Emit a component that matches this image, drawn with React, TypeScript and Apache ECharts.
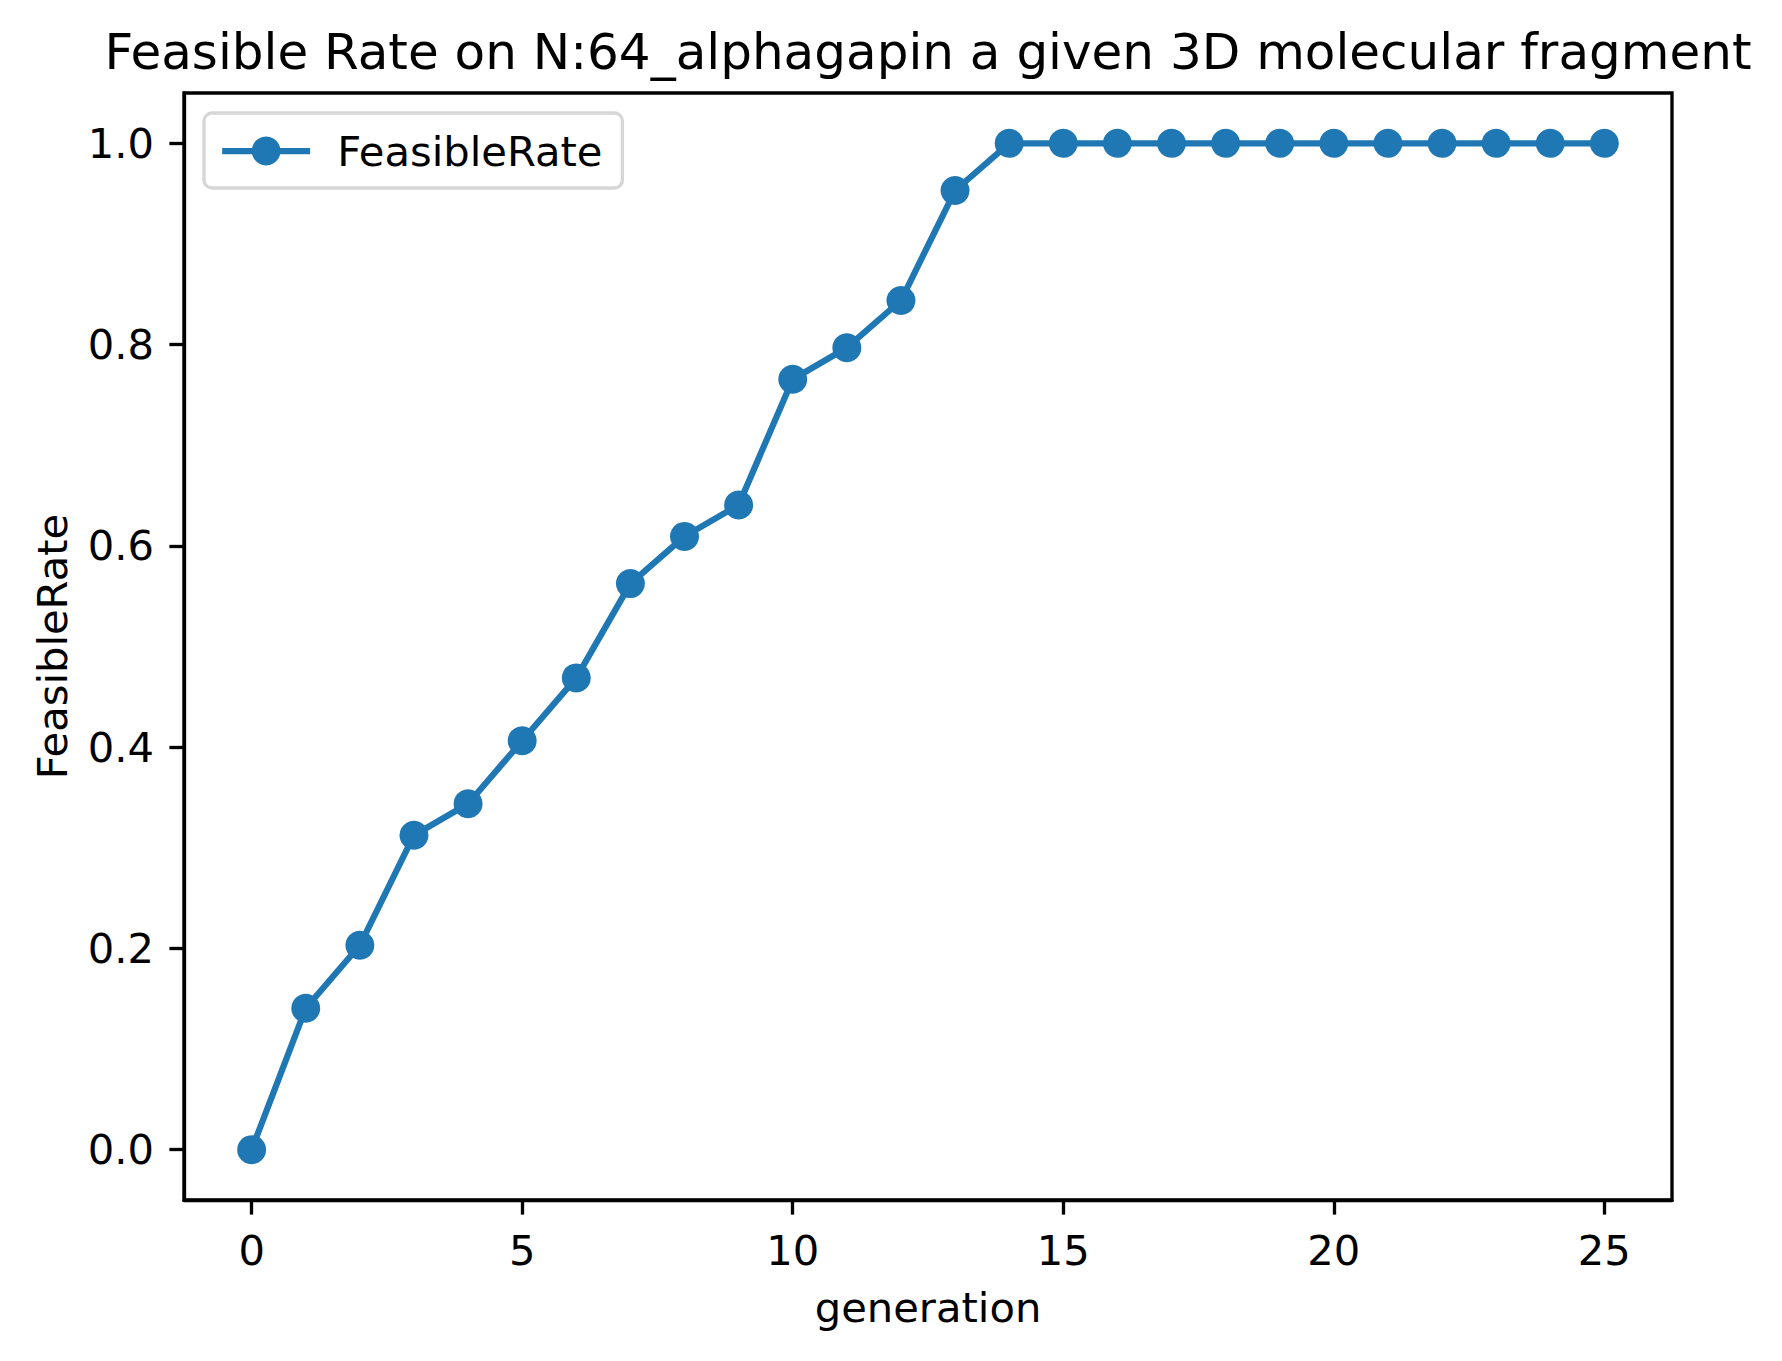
import React, { useEffect, useRef } from "react";
import * as echarts from "echarts";

const generations = [0, 1, 2, 3, 4, 5, 6, 7, 8, 9, 10, 11, 12, 13, 14, 15, 16, 17, 18, 19, 20, 21, 22, 23, 24, 25];
const feasibleRate = [
  0.0, 0.1406, 0.2031, 0.3125, 0.3438, 0.4063, 0.4688, 0.5625, 0.6094, 0.6406,
  0.7656, 0.7969, 0.8438, 0.9531, 1.0, 1.0, 1.0, 1.0, 1.0, 1.0, 1.0, 1.0, 1.0, 1.0, 1.0, 1.0,
];
const xTicks = [0, 5, 10, 15, 20, 25];
const yTicks = [0, 0.2, 0.4, 0.6, 0.8, 1.0];

const TITLE = "Feasible Rate on N:64_alphagapin a given 3D molecular fragment";
const FONT = "DejaVu Sans";
const BLUE = "#1f77b4";
const FS = 41.67;

export default function App() {
  const ref = useRef<HTMLDivElement>(null);
  useEffect(() => {
    if (!ref.current) return;
    const chart = echarts.init(ref.current, null, { renderer: "svg" });
    const data = generations.map((g, i) => [g, feasibleRate[i]]);
    chart.setOption({
      animation: false,
      backgroundColor: "#ffffff",
      textStyle: { fontFamily: FONT },
      grid: {
        left: 184,
        right: 110,
        top: 93,
        bottom: 161,
        show: true,
        borderColor: "#000",
        borderWidth: 3.33,
        backgroundColor: "transparent",
      },
      graphic: [
        {
          type: "text",
          x: 928,
          y: 52,
          style: {
            text: TITLE,
            font: `50px "${FONT}"`,
            fill: "#000",
            textAlign: "center",
            textVerticalAlign: "middle",
          },
        },
      ],
      legend: {
        show: true,
        left: 204,
        top: 113,
        orient: "vertical",
        padding: [16, 20, 15, 15],
        itemWidth: 88,
        itemHeight: 36,
        backgroundColor: "#fff",
        borderColor: "#d6d6d6",
        borderWidth: 3.33,
        borderRadius: 8,
        lineStyle: { width: 6.25, color: BLUE },
        textStyle: {
          fontFamily: FONT,
          fontSize: FS,
          lineHeight: 44,
          color: "#000",
          padding: [0, 0, 0, 22],
        },
        data: [{ name: "FeasibleRate" }],
      },
      xAxis: {
        type: "value",
        min: -1.25,
        max: 26.25,
        name: "generation",
        nameLocation: "middle",
        nameGap: 86,
        nameTextStyle: { fontFamily: FONT, fontSize: FS, color: "#000" },
        splitLine: { show: false },
        axisLine: { show: true, onZero: false, lineStyle: { color: "#000", width: 3.33 } },
        axisTick: {
          show: true,
          inside: false,
          length: 14.6,
          lineStyle: { color: "#000", width: 3.33 },
          customValues: xTicks,
        },
        axisLabel: {
          show: true,
          margin: 29,
          fontFamily: FONT,
          fontSize: FS,
          color: "#000",
          customValues: xTicks,
          formatter: (v: number) => String(v),
        },
      },
      yAxis: {
        type: "value",
        min: -0.05,
        max: 1.05,
        name: "FeasibleRate",
        nameLocation: "middle",
        nameGap: 111,
        nameRotate: 90,
        nameTextStyle: { fontFamily: FONT, fontSize: FS, color: "#000" },
        splitLine: { show: false },
        axisLine: { show: true, onZero: false, lineStyle: { color: "#000", width: 3.33 } },
        axisTick: {
          show: true,
          inside: false,
          length: 14.6,
          lineStyle: { color: "#000", width: 3.33 },
          customValues: yTicks,
        },
        axisLabel: {
          show: true,
          margin: 30,
          fontFamily: FONT,
          fontSize: FS,
          color: "#000",
          customValues: yTicks,
          formatter: (v: number) => v.toFixed(1),
        },
      },
      series: [
        {
          name: "FeasibleRate",
          type: "line",
          data,
          symbol: "circle",
          symbolSize: 29,
          showAllSymbol: true,
          clip: false,
          lineStyle: { color: BLUE, width: 6.25 },
          itemStyle: { color: BLUE },
          emphasis: { disabled: true },
        },
      ],
    });
    return () => chart.dispose();
  }, []);
  return (
    <div
      ref={ref}
      style={{ position: "absolute", left: 0, top: 0, width: 1782, height: 1361 }}
    />
  );
}
